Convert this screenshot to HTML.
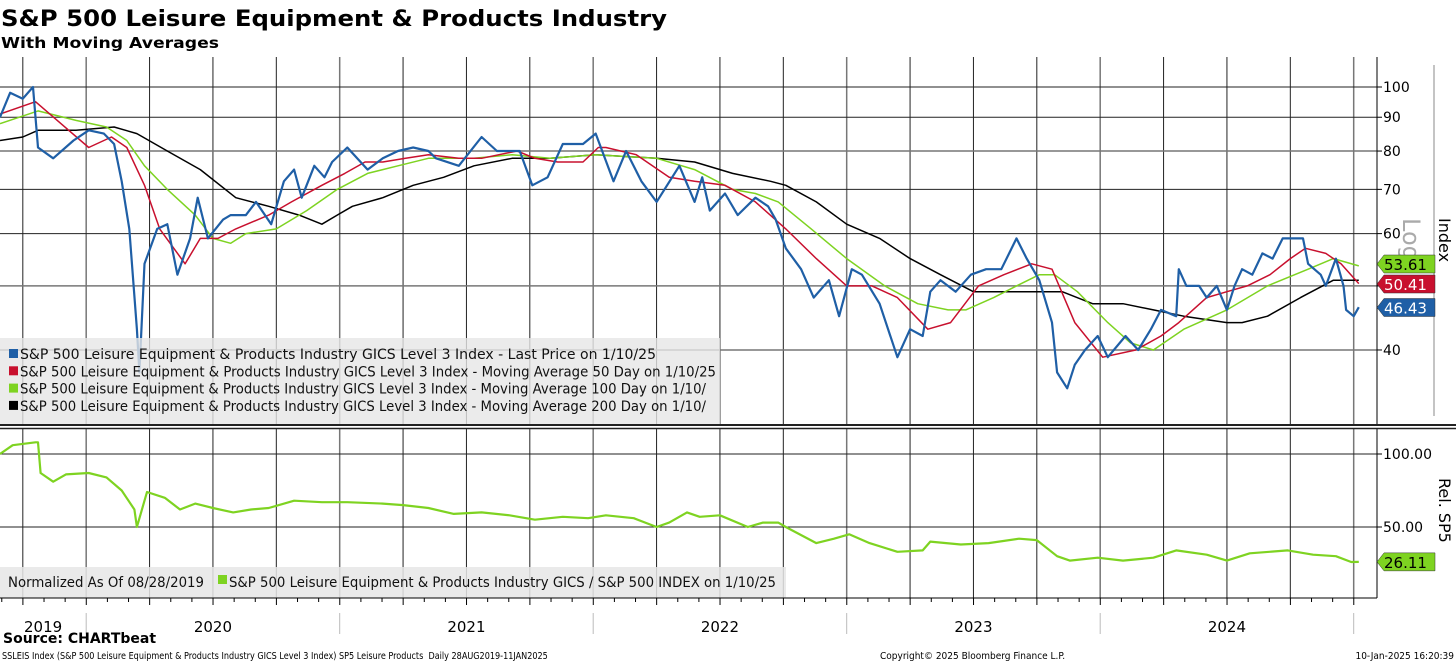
<!DOCTYPE html>
<html><head><meta charset="utf-8"><style>
html,body{margin:0;padding:0;background:#fff;width:1456px;height:665px;overflow:hidden}
svg{display:block;font-family:"DejaVu Sans","Liberation Sans",sans-serif}
</style></head><body>
<svg id="chart" width="1456" height="665" viewBox="0 0 1456 665" xmlns="http://www.w3.org/2000/svg">
<text x="1" y="26" font-family="DejaVu Sans, sans-serif" font-weight="bold" font-size="22" textLength="666" lengthAdjust="spacingAndGlyphs">S&amp;P 500 Leisure Equipment &amp; Products Industry</text>
<text x="1" y="48" font-weight="bold" font-size="15" textLength="218" lengthAdjust="spacingAndGlyphs">With Moving Averages</text>
<g id="grid"></g>
<g id="series"></g>
<g id="legends"></g>
<g id="axes"></g>
</svg>
<script>
// ---- data ----
const priceDates=[2019.66,2019.70,2019.75,2019.79,2019.81,2019.87,2019.95,2020.01,2020.07,2020.11,2020.14,2020.17,2020.20,2020.21,2020.23,2020.28,2020.32,2020.36,2020.41,2020.44,2020.48,2020.54,2020.57,2020.63,2020.67,2020.73,2020.78,2020.82,2020.85,2020.90,2020.94,2020.97,2021.03,2021.11,2021.17,2021.23,2021.29,2021.35,2021.38,2021.47,2021.56,2021.62,2021.71,2021.76,2021.82,2021.88,2021.96,2022.01,2022.08,2022.13,2022.19,2022.25,2022.34,2022.40,2022.43,2022.46,2022.52,2022.57,2022.64,2022.69,2022.72,2022.76,2022.82,2022.87,2022.93,2022.97,2023.02,2023.06,2023.13,2023.20,2023.25,2023.30,2023.33,2023.37,2023.43,2023.49,2023.55,2023.61,2023.67,2023.71,2023.76,2023.81,2023.83,2023.87,2023.90,2023.94,2023.99,2024.03,2024.10,2024.15,2024.20,2024.24,2024.30,2024.31,2024.34,2024.39,2024.42,2024.46,2024.50,2024.53,2024.56,2024.60,2024.64,2024.68,2024.72,2024.76,2024.80,2024.82,2024.87,2024.89,2024.93,2024.96,2024.97,2025.00,2025.02];
const priceValues=[90,98,96,100,81,78,83,86,85,82,72,61,43,37,54,61,62,52,59,68,59,63,64,64,67,62,72,75,68,76,73,77,81,75,78,80,81,80,78,76,84,80,80,71,73,82,82,85,72,80,72,67,76,67,73,65,69,64,68,66,63,57,53,48,51,45,53,52,47,39,43,42,49,51,49,52,53,53,59,55,51,44,37,35,38,40,42,39,42,40,43,46,45,53,50,50,48,50,46,50,53,52,56,55,59,59,59,54,52,50,55,50,46,45,46.43];
const ma50Dates=[2019.66,2019.80,2020.01,2020.10,2020.16,2020.23,2020.29,2020.39,2020.45,2020.52,2020.59,2020.72,2020.81,2020.93,2021.02,2021.10,2021.17,2021.26,2021.35,2021.47,2021.56,2021.70,2021.77,2021.86,2021.96,2022.02,2022.05,2022.17,2022.30,2022.40,2022.52,2022.64,2022.76,2022.88,2023.00,2023.10,2023.20,2023.32,2023.41,2023.52,2023.62,2023.73,2023.81,2023.90,2024.01,2024.14,2024.24,2024.31,2024.42,2024.50,2024.58,2024.67,2024.75,2024.81,2024.89,2024.95,2025.02];
const ma50Values=[91,95,81,84,81,71,61,54,59,59,61,64,67,71,74,77,77,78,79,78,78,80,78,77,77,81,81,79,73,72,71,67,61,55,50,50,48,43,44,50,52,54,53,44,39,40,42,44,48,49,50,52,55,57,56,54,50.41];
const ma100Dates=[2019.66,2019.81,2019.96,2020.08,2020.16,2020.23,2020.32,2020.43,2020.50,2020.57,2020.63,2020.75,2020.87,2020.99,2021.11,2021.23,2021.35,2021.53,2021.68,2021.83,2022.01,2022.25,2022.40,2022.55,2022.64,2022.73,2022.86,2023.00,2023.15,2023.28,2023.40,2023.47,2023.58,2023.67,2023.76,2023.82,2023.91,2024.03,2024.12,2024.21,2024.33,2024.50,2024.66,2024.82,2024.92,2025.02];
const ma100Values=[88,92,89,87,83,76,70,64,59,58,60,61,65,70,74,76,78,78,79,78,79,78,75,70,69,67,61,55,50,47,46,46,48,50,52,52,49,44,41,40,43,46,50,53,55,53.61];
const ma200Dates=[2019.66,2019.75,2019.81,2019.96,2020.11,2020.20,2020.32,2020.45,2020.59,2020.72,2020.84,2020.93,2020.99,2021.05,2021.17,2021.29,2021.41,2021.53,2021.68,2021.83,2022.01,2022.25,2022.40,2022.55,2022.70,2022.76,2022.88,2023.00,2023.13,2023.25,2023.37,2023.50,2023.64,2023.76,2023.85,2023.97,2024.09,2024.21,2024.33,2024.50,2024.56,2024.66,2024.79,2024.92,2025.02];
const ma200Values=[83,84,86,86,87,85,80,75,68,66,64,62,64,66,68,71,73,76,78,78,79,78,77,74,72,71,67,62,59,55,52,49,49,49,49,47,47,46,45,44,44,45,48,51,51];
const relDates=[2019.66,2019.71,2019.80,2019.81,2019.82,2019.87,2019.92,2020.01,2020.08,2020.14,2020.19,2020.20,2020.24,2020.31,2020.37,2020.43,2020.50,2020.58,2020.65,2020.72,2020.82,2020.93,2021.03,2021.17,2021.25,2021.35,2021.45,2021.56,2021.67,2021.77,2021.88,2021.98,2022.05,2022.16,2022.25,2022.30,2022.37,2022.42,2022.50,2022.61,2022.67,2022.73,2022.76,2022.88,2022.95,2023.01,2023.09,2023.20,2023.30,2023.33,2023.45,2023.56,2023.68,2023.75,2023.83,2023.88,2023.99,2024.09,2024.21,2024.30,2024.42,2024.50,2024.59,2024.74,2024.84,2024.93,2024.99,2025.02];
const relValues=[100,106,108,108,87,81,86,87,84,75,62,50,74,70,62,66,63,60,62,63,68,67,67,66,65,63,59,60,58,55,57,56,58,56,50,53,60,57,58,50,53,53,50,39,42,45,39,33,34,40,38,39,42,41,30,27,29,27,29,34,31,27,32,34,31,30,26,26.11];
const priceTicks=[100,90,80,70,60,50,40];
const priceTickLabels=["100","90","80","70","60","","40"];
const relTicks=[100,50];
const relTickLabels=["100.00","50.00"];
const yearLabels=["2019","2020","2021","2022","2023","2024"];
const yearLabelPos=[2019.83,2020.5,2021.5,2022.5,2023.5,2024.5];
const yearBounds=[2020,2021,2022,2023,2024,2025];
const tagValues=[53.61,50.41,46.43];
const relTag=26.11;

// ---- scales ----
const X0=2019.66, PXY=253.5, RIGHT=1377;
const xs=t=>(t-X0)*PXY;
const yTop=v=>87+Math.log(100/v)*287;
const yRel=v=>600-v*1.46;
const NS='http://www.w3.org/2000/svg';
function mk(tag,attrs,parent){const e=document.createElementNS(NS,tag);for(const k in attrs)e.setAttribute(k,attrs[k]);parent.appendChild(e);return e;}
const grid=document.getElementById('grid'), ser=document.getElementById('series'), leg=document.getElementById('legends'), ax=document.getElementById('axes');

// vertical quarterly gridlines
for(let q=2019.75;q<=2025.01;q+=0.25){
  const x=xs(q);
  const yr=Math.abs(q-Math.round(q))<0.01;
  const l1=mk('line',{x1:x,x2:x,y1:57,y2:425,stroke:yr?'#777':'#222','stroke-width':yr?1.5:1},grid);
  
  
  const l2=mk('line',{x1:x,x2:x,y1:429,y2:598,stroke:yr?'#777':'#222','stroke-width':yr?1.5:1},grid);
  
  
}
// horizontal gridlines top
priceTicks.forEach((v,i)=>{
  const y=yTop(v);
  const gl=mk('line',{x1:0,x2:RIGHT,y1:y,y2:y,stroke:(v==80||v==50||v==40)?'#777':'#222','stroke-width':(v==80||v==50||v==40)?1.5:1},grid);
  
  
  const tk=mk('line',{x1:RIGHT,x2:RIGHT+5,y1:y,y2:y,stroke:'#000'},ax);
  
  
  if(priceTickLabels[i]){
    const t=mk('text',{x:RIGHT+6,y:y+5,'font-size':14},ax);
    
    
    t.textContent=priceTickLabels[i];
  }
});
relTicks.forEach((v,i)=>{
  const y=yRel(v);
  const gl=mk('line',{x1:0,x2:RIGHT,y1:y,y2:y,stroke:'#222'},grid);
  
  
  const tk=mk('line',{x1:RIGHT,x2:RIGHT+5,y1:y,y2:y,stroke:'#000'},ax);
  
  
  const t=mk('text',{x:RIGHT+6,y:y+5,'font-size':14},ax);
  
  
  t.textContent=relTickLabels[i];
});

function line(dates,vals,yf,color,w,name){
  const d=dates.map((t,i)=>(i?'L':'M')+xs(t).toFixed(1)+','+yf(vals[i]).toFixed(1)).join('');
  const p=mk('path',{d:d,fill:'none',stroke:color,'stroke-width':w,'stroke-linejoin':'round'},ser);
  
  
}
line(ma200Dates,ma200Values,yTop,'#000',1.5,'ma200-line');
line(ma100Dates,ma100Values,yTop,'#7ed321',1.5,'ma100-line');
line(ma50Dates,ma50Values,yTop,'#c8102e',1.5,'ma50-line');
line(priceDates,priceValues,yTop,'#1f5fa6',2.2,'price-line');
line(relDates,relValues,yRel,'#7ed321',2.2,'relative-line');

// legends
const lg=mk('rect',{x:0,y:338,width:720,height:86,fill:'#e6e6e6','fill-opacity':0.8},leg);


const legTexts=["S&P 500 Leisure Equipment & Products Industry GICS Level 3 Index - Last Price on 1/10/25","S&P 500 Leisure Equipment & Products Industry GICS Level 3 Index - Moving Average 50 Day on 1/10/25","S&P 500 Leisure Equipment & Products Industry GICS Level 3 Index - Moving Average 100 Day on 1/10/","S&P 500 Leisure Equipment & Products Industry GICS Level 3 Index - Moving Average 200 Day on 1/10/"];
const legCols=['#1f5fa6','#c8102e','#7ed321','#000'];
const legW=[636,696,686,686];
legTexts.forEach((s,i)=>{
  const y=355+i*17.3;
  const sw=mk('rect',{x:9,y:y-6,width:9,height:9,fill:legCols[i]},leg);
  
  
  const t=mk('text',{x:20,y:y+4,'font-size':14,textLength:legW[i],lengthAdjust:'spacingAndGlyphs',fill:'#111'},leg);
  
  
  t.textContent=s;
});
const lb=mk('rect',{x:0,y:567,width:786,height:31,fill:'#e6e6e6','fill-opacity':0.85},leg);


const nt=mk('text',{x:8,y:587,'font-size':14,textLength:196,lengthAdjust:'spacingAndGlyphs',fill:'#111'},leg);


nt.textContent='Normalized As Of 08/28/2019';
const bs=mk('rect',{x:218,y:575,width:9,height:9,fill:'#7ed321'},leg);


const bt=mk('text',{x:229,y:587,'font-size':14,textLength:547,lengthAdjust:'spacingAndGlyphs',fill:'#111'},leg);


bt.textContent='S&P 500 Leisure Equipment & Products Industry GICS / S&P 500 INDEX on 1/10/25';

// axes lines
[[RIGHT,57,RIGHT,425],[RIGHT,429,RIGHT,598],[0,598,RIGHT,598]].forEach(a=>{
  const l=mk('line',{x1:a[0],y1:a[1],x2:a[2],y2:a[3],stroke:'#000'},ax);
  
  
});
const sep1=mk('line',{x1:0,x2:1456,y1:425,y2:425,stroke:'#222','stroke-width':2},ax);


const sep2=mk('line',{x1:0,x2:1456,y1:428.5,y2:428.5,stroke:'#222','stroke-width':1.5},ax);


const gl=mk('line',{x1:1434,x2:1434,y1:65,y2:416,stroke:'#888'},ax);


const logT=mk('text',{x:0,y:0,'font-size':24,fill:'#aaa',transform:'translate(1403,218) rotate(90)'},ax);


logT.textContent='Log';
const idx=mk('text',{x:0,y:0,'font-size':16,fill:'#000',transform:'translate(1439,218) rotate(90)'},ax);


idx.textContent='Index';
const rel=mk('text',{x:0,y:0,'font-size':16,fill:'#000',transform:'translate(1439,478) rotate(90)'},ax);


rel.textContent='Rel. SP5';
// monthly ticks
for(let m=0;m<=65;m++){
  const t=2019.667+m/12; if(t>2025.05)break;
  const x=xs(t);
  const tk=mk('line',{x1:x,x2:x,y1:598,y2:m%3==1?605:602,stroke:'#000'},ax);
  
  
}
yearBounds.forEach(b=>{
  const l=mk('line',{x1:xs(b),x2:xs(b),y1:613,y2:634,stroke:'#bbb'},ax);
  
  
});
yearLabels.forEach((s,i)=>{
  const t=mk('text',{x:xs(yearLabelPos[i]),y:632,'font-size':15,'text-anchor':'middle'},ax);
  
  
  t.textContent=s;
});
// value tags
function tag(v,yf,bg,fg,name){
  const y=yf(v);
  const p=mk('path',{d:`M${RIGHT},${y} L${RIGHT+7},${y-9} H1435 V${y+9} H${RIGHT+7} Z`,fill:bg,stroke:'#333','stroke-width':0.5},ax);
  
  
  const t=mk('text',{x:1384,y:y+6,'font-size':15,fill:fg},ax);
  
  
  t.textContent=v.toFixed(2);
}
tag(tagValues[0],v=>264,'#7ed321','#000','ma100-tag');
tag(tagValues[1],v=>284,'#c8102e','#fff','ma50-tag');
tag(tagValues[2],v=>307.5,'#1f5fa6','#fff','price-tag');
tag(relTag,yRel,'#7ed321','#000','relative-tag');
</script>
<text></text>
<svg width="0" height="0"></svg>
<div style="position:absolute;left:3px;top:631px;font:bold 14px 'DejaVu Sans',sans-serif">Source: CHARTbeat</div>
<div style="position:absolute;left:2px;top:651px;font:10px 'DejaVu Sans Condensed','Liberation Sans Narrow',sans-serif;transform:scaleX(0.9);transform-origin:left">SSLEIS Index (S&amp;P 500 Leisure Equipment &amp; Products Industry GICS Level 3 Index) SP5 Leisure Products&nbsp; Daily 28AUG2019-11JAN2025</div>
<div style="position:absolute;left:880px;top:651px;font:10px 'DejaVu Sans Condensed',sans-serif">Copyright© 2025 Bloomberg Finance L.P.</div>
<div style="position:absolute;right:2px;top:651px;font:10px 'DejaVu Sans Condensed',sans-serif">10-Jan-2025 16:20:39</div>
</body></html>
